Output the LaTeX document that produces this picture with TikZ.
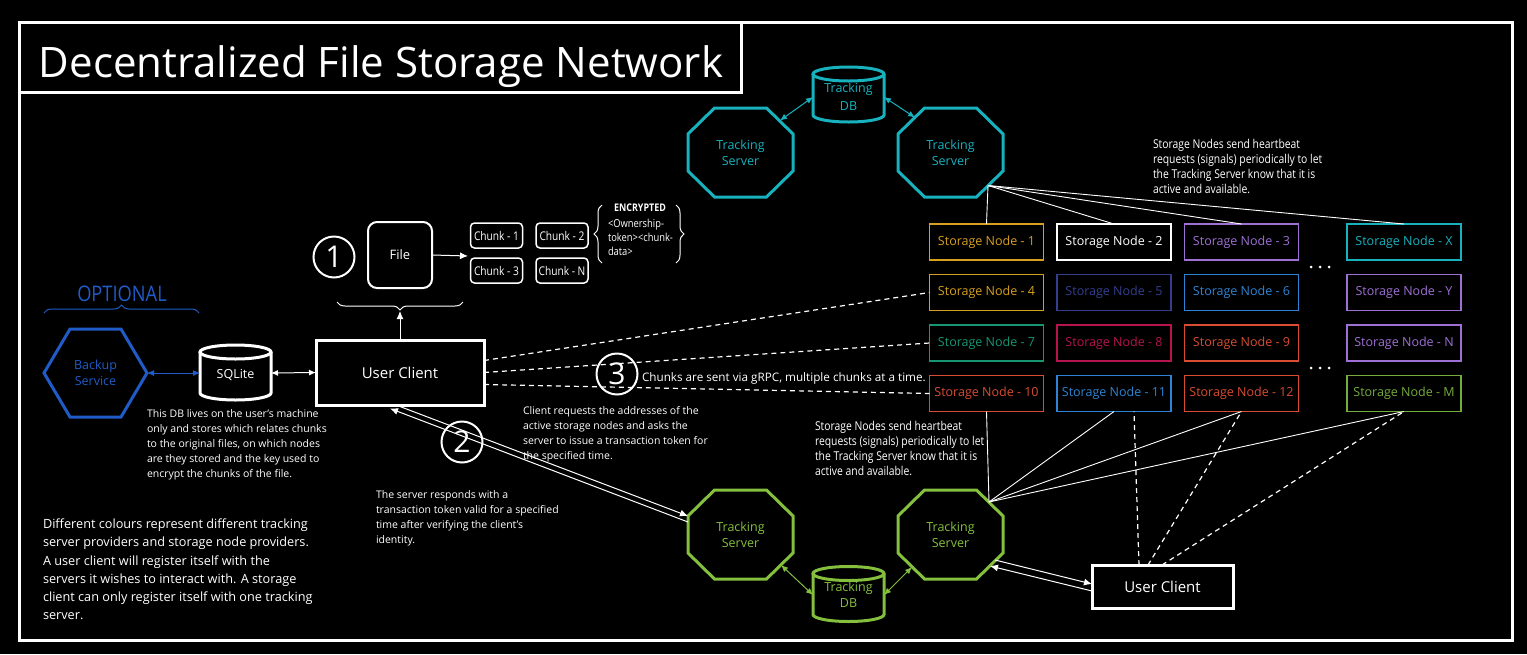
\documentclass[tikz,border=0pt]{standalone}
\usepackage{fontspec}
\setmainfont{Open Sans}
\newfontfamily\condfont[FakeStretch=0.85]{Open Sans}
\usetikzlibrary{calc,arrows.meta,decorations.pathreplacing}
\definecolor{cyanc}{RGB}{24,178,190}
\definecolor{greenc}{RGB}{132,192,62}
\definecolor{bluec}{RGB}{32,92,200}
\definecolor{goldc}{RGB}{214,160,30}
\definecolor{purplec}{RGB}{158,112,212}
\definecolor{indigoc}{RGB}{52,62,142}
\definecolor{skyc}{RGB}{46,132,212}
\definecolor{tealc}{RGB}{22,150,115}
\definecolor{crimsonc}{RGB}{182,20,78}
\definecolor{orangec}{RGB}{216,76,50}
\definecolor{mgreenc}{RGB}{116,172,62}
\tikzset{
 octagon/.pic={\draw[pic actions] (-26,-44.5) -- (26,-44.5) -- (52.5,-18.5) -- (52.5,18.5) -- (26,44.5) -- (-26,44.5) -- (-52.5,18.5) -- (-52.5,-18.5) -- cycle;},
 hexagon/.pic={\draw[pic actions] (-25.5,-44) -- (25.5,-44) -- (51.5,0) -- (25.5,44) -- (-25.5,44) -- (-51.5,0) -- cycle;},
 cyl/.pic={\draw[pic actions] (-35.5,-20.5) -- (-35.5,20.5) arc[start angle=180,end angle=0,x radius=35.5,y radius=7] -- (35.5,-20.5);
           \draw[pic actions] (0,-20.5) ellipse[x radius=35.5,y radius=7];},
 snbox/.style={draw=#1, text=#1, line width=1.5pt, minimum width=114pt, minimum height=36pt, font=\fontsize{12.5}{15}\selectfont},
 ucbox/.style={draw=white, text=white, line width=3pt, fill=black, font=\fontsize{15}{18}\selectfont},
 chunkbox/.style={draw=white, text=white, line width=1.5pt, rounded corners=4pt, minimum width=52pt, minimum height=25pt, font=\condfont\fontsize{12}{14}\selectfont},
 numcirc/.style={circle, draw=white, text=white, line width=2pt, minimum size=41pt, font=\fontsize{30}{30}\selectfont},
 note/.style={text=white, align=left, anchor=north west, font=\fontsize{10.5}{15}\selectfont},
 hbnote/.style={text=white, align=left, anchor=north west, font=\condfont\fontsize{12.2}{15}\selectfont},
 shapelbl/.style={align=center, font=\fontsize{12.5}{16}\selectfont},
 hbline/.style={white, line width=0.9pt},
 dline/.style={white, line width=1.2pt, dash pattern=on 5pt off 4pt},
 arr/.style={-{Latex[length=8pt,width=7pt]}},
 darr/.style={{Latex[length=7pt,width=6pt]}-{Latex[length=7pt,width=6pt]}},
 bracestyle/.style={decorate, decoration={brace, amplitude=8pt}, line width=1pt},
}
\begin{document}
\begin{tikzpicture}[x=1pt,y=-1pt,every node/.style={inner sep=0pt,outer sep=0pt}]
\fill[black] (0,0) rectangle (1527,654);
\useasboundingbox (0,0) rectangle (1527,654);
% frames
\draw[white,line width=3pt] (19,22) rectangle (1512,640);
\draw[white,line width=3pt] (19,22) rectangle (741,92);
\node[text=white, anchor=base, font=\fontsize{42}{50}\selectfont] (title) at (381,77) {Decentralized File Storage Network};

% ---------- top tracking cluster ----------
\pic[draw=cyanc, line width=3pt] at (740.5,152.5) {octagon};
\pic[draw=cyanc, line width=3pt] at (950.5,152.5) {octagon};
\pic[draw=cyanc, fill=black, line width=3pt] at (848.5,94.5) {cyl};
\node[shapelbl, text=cyanc] (ts1) at (740.5,153) {Tracking\\Server};
\node[shapelbl, text=cyanc] (ts2) at (950.5,153) {Tracking\\Server};
\node[shapelbl, text=cyanc, font=\fontsize{12.5}{18}\selectfont] (db1) at (848.5,97) {Tracking\\DB};
\draw[cyanc, line width=1pt, darr] ($(ts1)+(39.5,-32.5)$) -- ($(db1)+(-35.5,0)$);
\draw[cyanc, line width=1pt, darr] ($(db1)+(35.5,0)$) -- ($(ts2)+(-35.5,-35.5)$);

% ---------- bottom tracking cluster ----------
\pic[draw=greenc, line width=3pt] at (740.5,534.5) {octagon};
\pic[draw=greenc, line width=3pt] at (950.5,534.5) {octagon};
\pic[draw=greenc, fill=black, line width=3pt] at (848.5,594) {cyl};
\node[shapelbl, text=greenc] (ts3) at (740.5,534.5) {Tracking\\Server};
\node[shapelbl, text=greenc] (ts4) at (950.5,534.5) {Tracking\\Server};
\node[shapelbl, text=greenc, font=\fontsize{12.5}{16}\selectfont] (db2) at (848.5,594.5) {Tracking\\DB};
\draw[greenc, line width=1pt, darr] ($(ts3)+(40.5,30.5)$) -- ($(db2)+(-35.5,0.5)$);
\draw[greenc, line width=1pt, darr] ($(db2)+(35.5,0.5)$) -- ($(ts4)+(-38.5,32.5)$);

% ---------- storage nodes ----------
\node[snbox=goldc]    (sn1)  at (986.5,242)  {Storage Node - 1};
\node[snbox=white]    (sn2)  at (1114,242)   {Storage Node - 2};
\node[snbox=purplec]  (sn3)  at (1241.5,242) {Storage Node - 3};
\node[snbox=cyanc]    (snx)  at (1404,242)   {Storage Node - X};
\node[snbox=goldc]    (sn4)  at (986.5,292.5)  {Storage Node - 4};
\node[snbox=indigoc]  (sn5)  at (1114,292.5)   {Storage Node - 5};
\node[snbox=skyc]     (sn6)  at (1241.5,292.5) {Storage Node - 6};
\node[snbox=purplec]  (sny)  at (1404,292.5)   {Storage Node - Y};
\node[snbox=tealc]    (sn7)  at (986.5,343)  {Storage Node - 7};
\node[snbox=crimsonc] (sn8)  at (1114,343)   {Storage Node - 8};
\node[snbox=orangec]  (sn9)  at (1241.5,343) {Storage Node - 9};
\node[snbox=purplec]  (snn)  at (1404,343)   {Storage Node - N};
\node[snbox=orangec]  (sn10) at (986.5,393.5)  {Storage Node - 10};
\node[snbox=skyc]     (sn11) at (1114,393.5)   {Storage Node - 11};
\node[snbox=orangec]  (sn12) at (1241.5,393.5) {Storage Node - 12};
\node[snbox=mgreenc]  (snm)  at (1404,393.5)   {Storage Node - M};
\foreach \yy in {267,368} {
  \foreach \xx in {1311,1320,1329} { \fill[white] (\xx,\yy) circle (1.5); }
}

% heartbeat lines
\coordinate (hbtop) at ($(ts2)+(37.5,32.5)$);
\coordinate (hbbot) at ($(ts4)+(38.5,-32.5)$);
\draw[hbline] (hbtop) -- (sn1.north);
\draw[hbline] (hbtop) -- (sn2.north);
\draw[hbline] (hbtop) -- (sn3.north);
\draw[hbline] (hbtop) -- (snx.north);
\draw[hbline] (hbbot) -- (sn10.south);
\draw[hbline] (hbbot) -- (sn11.south);
\draw[hbline] (hbbot) -- (sn12.south);
\draw[hbline] (hbbot) -- (snm.south);

% ---------- left side ----------
\node[text=bluec, anchor=base, font=\condfont\fontsize{21.5}{24}\selectfont] (opt) at (122,301) {OPTIONAL};
\draw[bluec, bracestyle] (44,313) -- (199,313);
\pic[draw=bluec, line width=3pt] at (95.5,373) {hexagon};
\node[shapelbl, text=bluec] (backup) at (95.5,373) {Backup\\Service};
\pic[draw=white, fill=black, line width=3pt] at (235.5,372.5) {cyl};
\node[text=white, font=\fontsize{12.5}{15}\selectfont] (sqlite) at (235.5,375) {SQLite};
\node[ucbox, minimum width=168pt, minimum height=65pt] (uc1) at (400,372.5) {User Client};
\draw[bluec, line width=1pt, darr] ($(backup)+(51.5,0)$) -- ($(sqlite)+(-35.5,-2)$);
\draw[white, line width=1pt, darr] ($(sqlite)+(35.5,-2)$) -- (uc1.west);

% file and chunks
\node[draw=white, text=white, line width=2pt, rounded corners=9pt, minimum width=64pt, minimum height=66pt, font=\fontsize{13}{15}\selectfont] (file) at (400,255) {File};
\node[numcirc] (c1) at (334,257) {1};
\node[chunkbox] (ch1) at (496.5,235.5) {Chunk - 1};
\node[chunkbox] (ch2) at (562,235.5) {Chunk - 2};
\node[chunkbox] (ch3) at (496.5,270.5) {Chunk - 3};
\node[chunkbox] (chn) at (562,270.5) {Chunk - N};
\coordinate (chin) at (468,256);
\draw[white, line width=1pt, arr] (file.east) -- (chin);
\draw[white, bracestyle] (463,302) -- (337,302);
\coordinate (bracetip) at (400,311);
\draw[white, line width=1pt, arr] (uc1.north) -- (bracetip);
\draw[white, bracestyle] (602,263) -- (602,205);
\draw[white, bracestyle] (676,205) -- (676,263);
\node[text=white, anchor=base, font=\condfont\bfseries\fontsize{10.5}{13}\selectfont] (enc) at (640,211) {ENCRYPTED};
\node[text=white, align=left, anchor=north west, font=\condfont\fontsize{11}{14}\selectfont] (encdata) at (608,219) {<Ownership-\\token><chunk-\\data>};

% notes
\node[note] (dbnote) at (147,410) {This DB lives on the user's machine\\only and stores which relates chunks\\to the original files, on which nodes\\are they stored and the key used to\\encrypt the chunks of the file.};
\node[note, font=\fontsize{12.7}{18.2}\selectfont] (legend) at (43,519) {Different colours represent different tracking\\server providers and storage node providers.\\A user client will register itself with the\\servers it wishes to interact with. A storage\\client can only register itself with one tracking\\server.};

% ---------- dashed chunk transfer ----------
\draw[dline] ($(uc1.east)+(0,-12)$) -- (sn4.west);
\draw[dline] (uc1.east) -- (sn7.west);
\draw[dline] ($(uc1.east)+(0,12)$) -- (sn10.west);
\node[numcirc] (c3) at (617,374) {3};
\node[text=white, anchor=base west, font=\fontsize{11.7}{14}\selectfont] (grpc) at (642,381) {Chunks are sent via gRPC, multiple chunks at a time.};
\node[note] (reqnote) at (523,406) {Client requests the addresses of the\\active storage nodes and asks the\\server to issue a transaction token for\\the specified time.};

% ---------- token exchange ----------
\draw[white, line width=1pt, arr] ($(uc1.south)+(-4,0)$) -- ($(ts3)+(-52.5,-18.5)$);
\draw[white, line width=1pt, arr] ($(ts3)+(-52.5,-12.5)$) -- ($(uc1.south)+(-10,3.5)$);
\node[numcirc] (c2) at (462,442) {2};
\node[note] (respnote) at (376,491) {The server responds with a\\transaction token valid for a specified\\time after verifying the client's\\identity.};

% heartbeat notes
\node[hbnote] (hbn1) at (1153,139) {Storage Nodes send heartbeat\\requests (signals) periodically to let\\the Tracking Server know that it is\\active and available.};
\node[hbnote] (hbn2) at (815,421) {Storage Nodes send heartbeat\\requests (signals) periodically to let\\the Tracking Server know that it is\\active and available.};

% ---------- bottom user client ----------
\node[ucbox, minimum width=141pt, minimum height=43pt] (uc2) at (1162.5,586.5) {User Client};
\draw[dline] ($(uc2.north)+(-23.5,0)$) -- ($(sn11.south)+(20,0)$);
\draw[dline] ($(uc2.north)+(-14.5,0)$) -- (sn12.south);
\draw[dline] ($(uc2.north)+(-0.5,0)$) -- (snm.south);
\draw[white, line width=1pt, arr] ($(ts4)+(44.5,25.5)$) -- ($(uc2.west)+(0,-2.5)$);
\draw[white, line width=1pt, arr] ($(uc2.west)+(0,4.5)$) -- ($(ts4)+(39.5,31.5)$);
\end{tikzpicture}
\end{document}
